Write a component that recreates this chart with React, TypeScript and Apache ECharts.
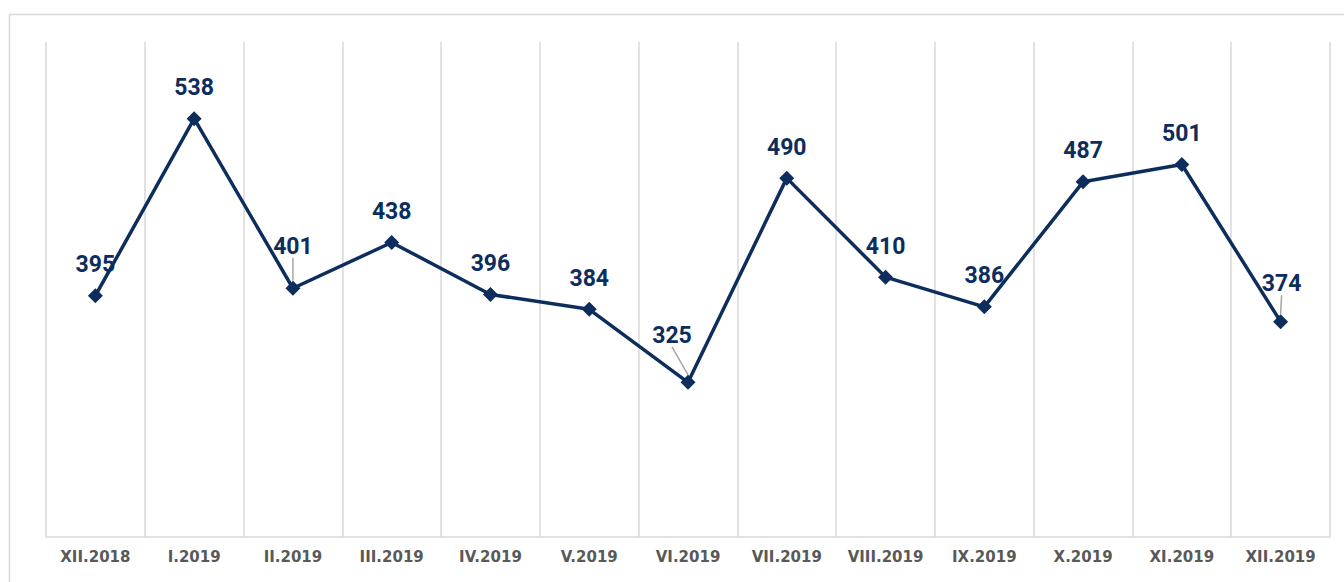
import React, { useEffect, useRef } from "react";
import * as echarts from "echarts";

const categories = [
  "XII.2018", "I.2019", "II.2019", "III.2019", "IV.2019", "V.2019", "VI.2019",
  "VII.2019", "VIII.2019", "IX.2019", "X.2019", "XI.2019", "XII.2019",
];
const values = [395, 538, 401, 438, 396, 384, 325, 490, 410, 386, 487, 501, 374];

const NAVY = "#0d2d5c";

// extra label nudges (dx, dy) for labels that were moved off their point
const labelNudge: Record<number, [number, number]> = {
  2: [0, -11],
  6: [-16, -16],
  12: [1, -7],
};

export default function App() {
  const ref = useRef<HTMLDivElement>(null);
  useEffect(() => {
    document.body.style.margin = "0";
    const chart = echarts.init(ref.current!, null, { renderer: "svg" });
    const seriesData = values.map((v, i) =>
      labelNudge[i]
        ? { value: v, labelLine: { show: true, lineStyle: { color: "#a6a6a6", width: 1.5 } } }
        : { value: v, labelLine: { show: false } }
    );
    chart.setOption({
      animation: false,
      backgroundColor: "#ffffff",
      graphic: [
        {
          type: "rect",
          shape: { x: 9.5, y: 14.5, width: 1345, height: 600 },
          style: { fill: "none", stroke: "#d9d9d9", lineWidth: 1.5 },
          silent: true,
        },
      ],
      grid: { left: 46, right: 14, top: 42, bottom: 45, containLabel: false },
      xAxis: {
        type: "category",
        data: categories,
        boundaryGap: true,
        axisLine: { show: true, lineStyle: { color: "#d9d9d9", width: 1.5 } },
        axisTick: { show: false },
        splitLine: { show: true, lineStyle: { color: "#d9d9d9", width: 1.5 } },
        axisLabel: {
          color: "#595959",
          fontFamily: "DejaVu Sans",
          fontWeight: "bold",
          fontSize: 15,
          margin: 12,
          interval: 0,
        },
      },
      yAxis: {
        type: "value",
        min: 200,
        max: 600,
        show: false,
        splitLine: { show: false },
      },
      series: [
        {
          type: "line",
          data: seriesData,
          symbol: "diamond",
          symbolSize: 15,
          itemStyle: { color: NAVY },
          lineStyle: { color: NAVY, width: 3.5 },
          label: {
            show: true,
            position: "top",
            distance: 12,
            color: NAVY,
            fontFamily: "Roboto",
            fontWeight: "bold",
            fontSize: 23,
          },
          labelLine: {
            show: false,
            lineStyle: { color: "#a6a6a6", width: 1.5 },
          },
          labelLayout: (params: any) => {
            const n = labelNudge[params.dataIndex];
            if (!n) return {};
            return { dx: n[0], dy: n[1] };
          },
        },
      ],
    });
    return () => chart.dispose();
  }, []);
  return <div ref={ref} style={{ width: 1344, height: 582 }} />;
}
